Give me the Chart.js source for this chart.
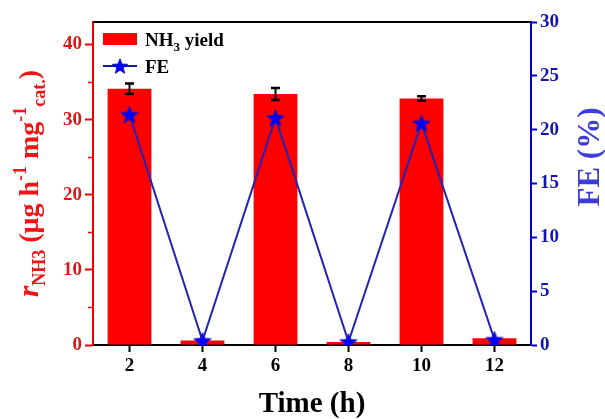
<!DOCTYPE html>
<html>
<head>
<meta charset="utf-8">
<script src="https://cdn.jsdelivr.net/npm/chart.js@4/dist/chart.umd.min.js"></script>
<style>
  html, body { margin: 0; padding: 0; background: #fff; }
  canvas { display: block; }
</style>
</head>
<body>
<canvas id="myChart" width="605" height="419"></canvas>
<script>
// Time points and measured values
const hours = ["2", "4", "6", "8", "10", "12"];
const yieldVals = [34.1, 0.6, 33.4, 0.4, 32.8, 0.9];
const yieldErr = [0.7, 0, 0.8, 0, 0.3, 0];
const feVals = [21.4, 0.4, 21.1, 0.3, 20.6, 0.5];

// axis ranges
const yieldMax = 43;
const feMax = 30;

const SERIF = "'Liberation Serif', 'Times New Roman', serif";
const RED = "#ee0000";
const BLUE = "#0000cc";

// filled five point star used as the FE marker
function makeStar(r, fill, stroke) {
    const c = document.createElement("canvas");
    const s = Math.ceil(r * 2 + 4);
    c.width = s;
    c.height = s;
    const ctx = c.getContext("2d");
    ctx.translate(s / 2, s / 2 + r * 0.1);
    ctx.beginPath();
    for (let i = 0; i < 10; i++) {
        const rad = i % 2 === 0 ? r : r * 0.42;
        const a = -Math.PI / 2 + i * Math.PI / 5;
        ctx.lineTo(rad * Math.cos(a), rad * Math.sin(a));
    }
    ctx.closePath();
    ctx.fillStyle = fill;
    ctx.fill();
    ctx.lineWidth = 1;
    ctx.strokeStyle = stroke;
    ctx.stroke();
    return c;
}

const starPoint = makeStar(9, "#0000ff", "#1010c0");
const starLegend = makeStar(8, "#0000ff", "#1010c0");

// write a run of text pieces, some raised or lowered
function drawRich(ctx, parts, x, y, align) {
    let total = 0;
    parts.forEach(p => {
        ctx.font = p.font;
        total += ctx.measureText(p.text).width;
    });
    let cx = align === "center" ? x - total / 2 : x;
    parts.forEach(p => {
        ctx.font = p.font;
        ctx.fillStyle = p.color;
        ctx.fillText(p.text, cx, y + (p.dy || 0));
        cx += ctx.measureText(p.text).width;
    });
}

const decorPlugin = {
    id: "decor",
    afterDatasetsDraw(chart) {
        const ctx = chart.ctx;
        const x = chart.scales.x;
        const y = chart.scales.y;
        // error bars on the yield columns
        ctx.save();
        ctx.strokeStyle = "#000";
        ctx.lineWidth = 2;
        yieldVals.forEach((v, i) => {
            if (!yieldErr[i]) return;
            const px = x.getPixelForValue(i);
            const top = y.getPixelForValue(v + yieldErr[i]);
            const bot = y.getPixelForValue(v - yieldErr[i]);
            ctx.beginPath();
            ctx.moveTo(px, top);
            ctx.lineTo(px, bot);
            ctx.stroke();
            ctx.lineWidth = 2.5;
            ctx.beginPath();
            ctx.moveTo(px - 4.5, top);
            ctx.lineTo(px + 4.5, top);
            ctx.moveTo(px - 4.5, bot);
            ctx.lineTo(px + 4.5, bot);
            ctx.stroke();
            ctx.lineWidth = 2;
        });
        ctx.restore();
    },
    afterDraw(chart) {
        const ctx = chart.ctx;
        const area = chart.chartArea;
        const y = chart.scales.y;
        ctx.save();

        // top frame line
        ctx.strokeStyle = "#000";
        ctx.lineWidth = 2;
        ctx.beginPath();
        ctx.moveTo(area.left, area.top);
        ctx.lineTo(area.right, area.top);
        ctx.stroke();

        // minor ticks on the yield axis
        ctx.strokeStyle = RED;
        ctx.lineWidth = 1.5;
        [5, 15, 25, 35].forEach(v => {
            const py = Math.round(y.getPixelForValue(v)) + 0.5;
            ctx.beginPath();
            ctx.moveTo(area.left - 5, py);
            ctx.lineTo(area.left, py);
            ctx.stroke();
        });

        // legend
        ctx.fillStyle = "#ff0000";
        ctx.fillRect(area.left + 10, 33, 34, 12);
        ctx.textBaseline = "alphabetic";
        drawRich(ctx, [
            { text: "NH", font: "bold 19px " + SERIF, color: "#000" },
            { text: "3", font: "bold 13px " + SERIF, color: "#000", dy: 5 },
            { text: " yield", font: "bold 19px " + SERIF, color: "#000" }
        ], area.left + 52, 46, "left");
        ctx.strokeStyle = "#1a1aa8";
        ctx.lineWidth = 2;
        ctx.beginPath();
        ctx.moveTo(area.left + 10, 66);
        ctx.lineTo(area.left + 44, 66);
        ctx.stroke();
        ctx.drawImage(starLegend, area.left + 27 - starLegend.width / 2, 66 - starLegend.height / 2);
        drawRich(ctx, [
            { text: "FE", font: "bold 19px " + SERIF, color: "#000" }
        ], area.left + 52, 73, "left");

        // x axis title
        ctx.textAlign = "left";
        drawRich(ctx, [
            { text: "Time (h)", font: "bold 29px " + SERIF, color: "#000" }
        ], (area.left + area.right) / 2, 412, "center");

        // left axis title, rotated
        ctx.save();
        ctx.translate(38, (area.top + area.bottom) / 2);
        ctx.rotate(-Math.PI / 2);
        const big = "bold 28px " + SERIF;
        const small = "bold 18px " + SERIF;
        drawRich(ctx, [
            { text: "r", font: "italic bold 29px " + SERIF, color: "#f01414" },
            { text: "NH3", font: small, color: "#f01414", dy: 7 },
            { text: " (μg h", font: big, color: "#f01414" },
            { text: "-1", font: small, color: "#f01414", dy: -12 },
            { text: " mg", font: big, color: "#f01414" },
            { text: "-1", font: small, color: "#f01414", dy: -12 },
            { text: "cat.", font: small, color: "#f01414", dy: 7 },
            { text: ")", font: big, color: "#f01414" }
        ], 0, 0, "center");
        ctx.restore();

        // right axis title, rotated
        ctx.save();
        ctx.translate(599, 157);
        ctx.rotate(-Math.PI / 2);
        drawRich(ctx, [
            { text: "FE (%)", font: "bold 31px " + SERIF, color: "#3c3cdc" }
        ], 0, 0, "center");
        ctx.restore();

        ctx.restore();
    }
};

const myChart = new Chart("myChart", {
    type: "bar",
    data: {
        labels: hours,
        datasets: [
            {
                type: "line",
                label: "FE",
                data: feVals,
                yAxisID: "y1",
                borderColor: "#2424b4",
                borderWidth: 2,
                pointStyle: starPoint,
                pointRadius: 9,
                tension: 0,
                order: 0
            },
            {
                label: "NH3 yield",
                data: yieldVals,
                yAxisID: "y",
                backgroundColor: "#ff0000",
                barPercentage: 0.6,
                categoryPercentage: 1,
                order: 1
            }
        ]
    },
    options: {
        responsive: false,
        devicePixelRatio: 1,
        animation: false,
        layout: { padding: { top: 22, left: 0, right: 0, bottom: 0 } },
        plugins: {
            legend: { display: false },
            tooltip: { enabled: false }
        },
        scales: {
            x: {
                offset: true,
                grid: {
                    offset: false,
                    drawOnChartArea: false,
                    drawTicks: true,
                    tickLength: 7,
                    tickWidth: 2,
                    color: "#000"
                },
                border: { color: "#000", width: 2 },
                ticks: {
                    color: "#000",
                    padding: 3,
                    font: { family: SERIF, size: 19, weight: "bold" }
                },
                afterFit: (scale) => { scale.height = 74; }
            },
            y: {
                position: "left",
                min: 0,
                max: yieldMax,
                grid: {
                    drawOnChartArea: false,
                    tickLength: 8,
                    tickWidth: 2,
                    color: RED
                },
                border: { color: RED, width: 2 },
                ticks: {
                    stepSize: 10,
                    includeBounds: false,
                    color: "#d81818",
                    padding: 3,
                    font: { family: SERIF, size: 19, weight: "bold" }
                },
                afterFit: (scale) => { scale.width = 93; }
            },
            y1: {
                position: "right",
                min: 0,
                max: feMax,
                grid: {
                    drawOnChartArea: false,
                    tickLength: 6,
                    tickWidth: 2,
                    color: BLUE
                },
                border: { color: BLUE, width: 2 },
                ticks: {
                    stepSize: 5,
                    includeBounds: false,
                    color: "#1414b0",
                    padding: 3,
                    font: { family: SERIF, size: 19, weight: "bold" }
                },
                afterFit: (scale) => { scale.width = 74; }
            }
        }
    },
    plugins: [decorPlugin]
});
</script>
</body>
</html>
